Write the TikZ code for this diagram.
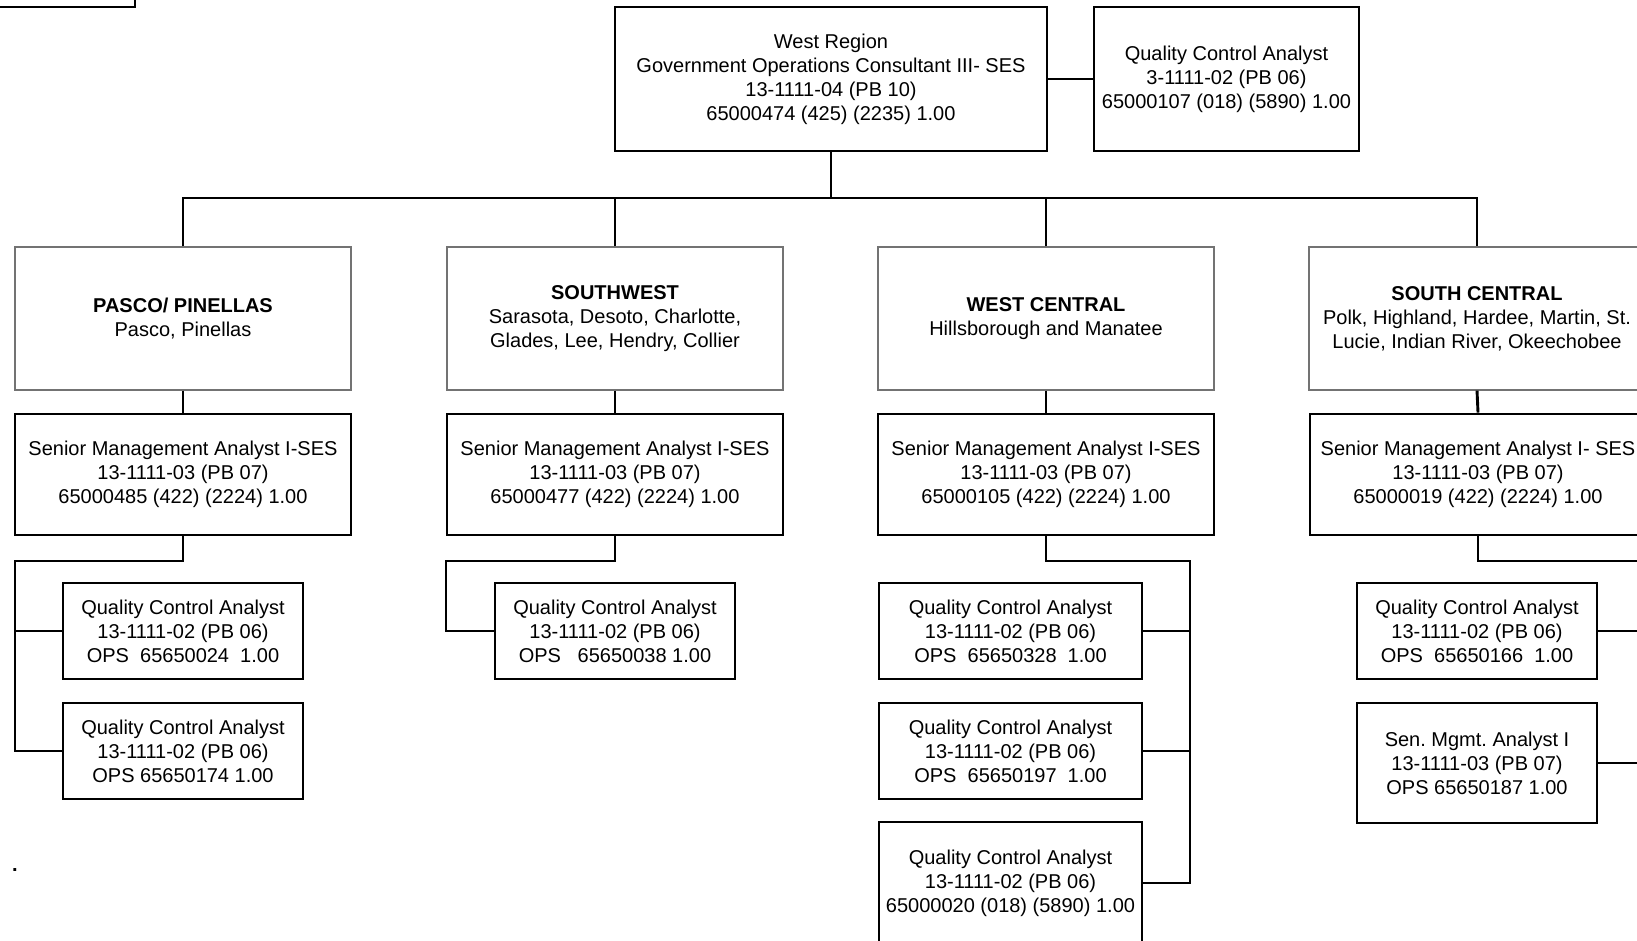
\documentclass[tikz,border=0pt]{standalone}
\usepackage{fontspec}
\setmainfont{Liberation Sans}
\begin{document}
\frenchspacing
\begin{tikzpicture}[x=1pt,y=-1pt,
  every node/.style={font=\fontsize{20}{24}\selectfont, align=center, inner sep=0pt},
  post/.style={draw=black, line width=2.9pt, rectangle},
  area/.style={draw=black!55, line width=1.1pt, rectangle, minimum width=336pt, minimum height=143pt},
  sma/.style={post, minimum width=336pt, minimum height=121pt},
  qc/.style={post, minimum width=240pt, minimum height=96pt},
  link/.style={draw=black, line width=2.9pt}]
\useasboundingbox (0,0) rectangle (1637,941);
\clip (0,0) rectangle (1637,941);

% box continued from the previous sheet
\node[post, minimum width=330pt, minimum height=114pt] (prev) at (-30,-50) {};

% region head and its analyst
\node[post, minimum width=432pt, minimum height=144pt] (top) at (831,79)
  {West Region\\Government Operations Consultant III- SES\\13-1111-04 (PB 10)\\65000474 (425) (2235) 1.00};
\node[post, minimum width=265pt, minimum height=144pt] (qctop) at (1226.5,79)
  {Quality Control Analyst\\3-1111-02 (PB 06)\\65000107 (018) (5890) 1.00};

% areas
\node[area] (pasco) at (183,318.5) {\textbf{PASCO/ PINELLAS}\\Pasco, Pinellas};
\node[area] (sw) at (615,318.5) {\textbf{SOUTHWEST}\\Sarasota, Desoto, Charlotte,\\Glades, Lee, Hendry, Collier};
\node[area] (wc) at (1046,318.5) {\textbf{WEST CENTRAL}\\Hillsborough and Manatee};
\node[area] (sc) at (1477,318.5) {\textbf{SOUTH CENTRAL}\\Polk, Highland, Hardee, Martin, St.\\Lucie, Indian River, Okeechobee};

% senior management analysts
\node[sma] (smaP) at (183,474.5) {Senior Management Analyst I-SES\\13-1111-03 (PB 07)\\65000485 (422) (2224) 1.00};
\node[sma] (smaSW) at (615,474.5) {Senior Management Analyst I-SES\\13-1111-03 (PB 07)\\65000477 (422) (2224) 1.00};
\node[sma] (smaWC) at (1046,474.5) {Senior Management Analyst I-SES\\13-1111-03 (PB 07)\\65000105 (422) (2224) 1.00};
\node[sma] (smaSC) at (1478,474.5) {Senior Management Analyst I- SES\\13-1111-03 (PB 07)\\65000019 (422) (2224) 1.00};

% staff
\node[qc] (qcP1) at (183,631) {Quality Control Analyst\\13-1111-02 (PB 06)\\OPS\ \ 65650024\ \ 1.00};
\node[qc] (qcP2) at (183,751) {Quality Control Analyst\\13-1111-02 (PB 06)\\OPS 65650174 1.00};
\node[qc] (qcSW) at (615,631) {Quality Control Analyst\\13-1111-02 (PB 06)\\OPS\ \ \ 65650038 1.00};
\node[qc, minimum width=263pt] (qcWC1) at (1010.5,631) {Quality Control Analyst\\13-1111-02 (PB 06)\\OPS\ \ 65650328\ \ 1.00};
\node[qc, minimum width=263pt] (qcWC2) at (1010.5,751) {Quality Control Analyst\\13-1111-02 (PB 06)\\OPS\ \ 65650197\ \ 1.00};
\node[qc, minimum width=263pt, minimum height=122pt] (qcWC3) at (1010.5,883) {Quality Control Analyst\\13-1111-02 (PB 06)\\65000020 (018) (5890) 1.00};
\node[qc] (qcSC) at (1477,631) {Quality Control Analyst\\13-1111-02 (PB 06)\\OPS\ \ 65650166\ \ 1.00};
\node[qc, minimum height=120pt] (senSC) at (1477,763) {Sen. Mgmt. Analyst I\\13-1111-03 (PB 07)\\OPS 65650187 1.00};

\node (dot) at (15,870) {\textbf{.}};

% connectors
\coordinate (bus) at (0,198);
\coordinate (pL) at (15,561);
\coordinate (swL) at (446,561);
\coordinate (wcR) at (1190,561);
\coordinate (scR) at (1645,561);

\draw[link] (top.east) -- (qctop.west);
\draw[link] (top.south) -- (top.south |- bus);
\draw[link] (pasco.north) -- (pasco.north |- bus) -- (sc.north |- bus) -- (sc.north);
\draw[link] (sw.north) -- (sw.north |- bus);
\draw[link] (wc.north) -- (wc.north |- bus);

\foreach \a/\b in {pasco/smaP, sw/smaSW, wc/smaWC, sc/smaSC}
  \draw[link] (\a.south) -- (\b.north);

\draw[link] (smaP.south) |- (pL) |- (qcP2.west);
\draw[link] (qcP1.west) -- (qcP1.west -| pL);

\draw[link] (smaSW.south) |- (swL) |- (qcSW.west);

\draw[link] (smaWC.south) |- (wcR) |- (qcWC3.east);
\draw[link] (qcWC1.east) -- (qcWC1.east -| wcR);
\draw[link] (qcWC2.east) -- (qcWC2.east -| wcR);

\draw[link] (smaSC.south) |- (scR);
\draw[link] (qcSC.east) -- (qcSC.east -| scR);
\draw[link] (senSC.east) -- (senSC.east -| scR);
\end{tikzpicture}
\end{document}
